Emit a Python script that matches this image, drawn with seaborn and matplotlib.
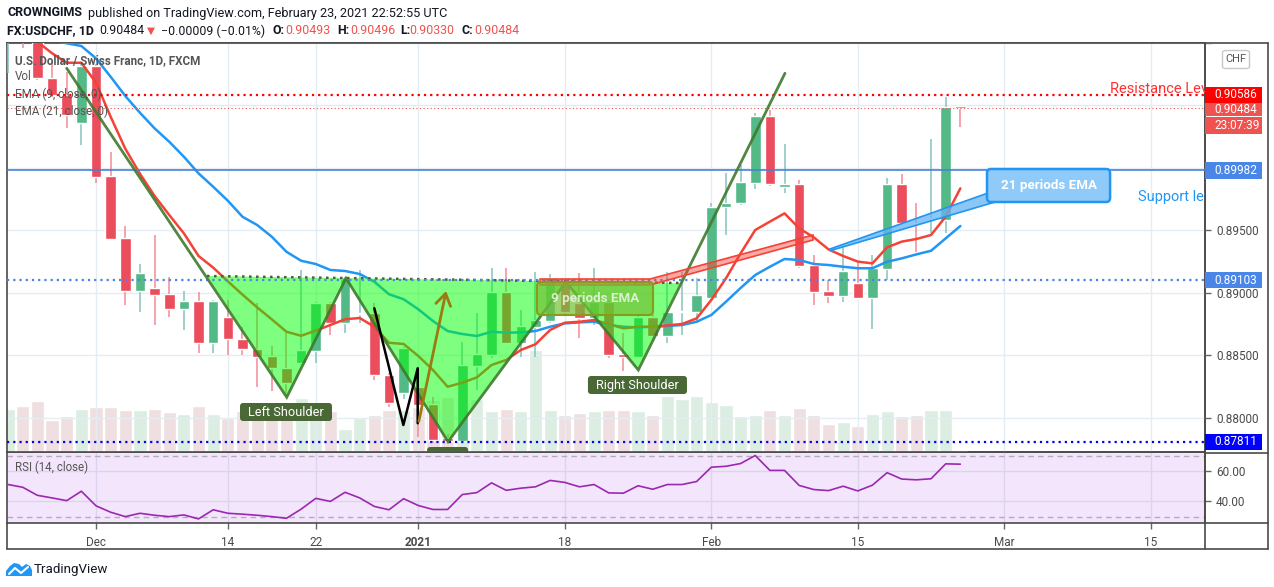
import numpy as np
import pandas as pd
import matplotlib
matplotlib.use('Agg')
import matplotlib.pyplot as plt
import seaborn as sns
from matplotlib.patches import Polygon, FancyBboxPatch, Rectangle
from matplotlib.lines import Line2D
from matplotlib.transforms import IdentityTransform

# ---------------- data ----------------
holidays = ['2020-12-25', '2021-01-01']
dates = pd.bdate_range('2020-11-23', '2021-02-24').drop(pd.to_datetime(holidays))

opens = [0.91180, 0.91300, 0.91120, 0.90718, 0.90584, 0.90362, 0.90816, 0.89936, 0.89437, 0.89018,
         0.89038, 0.88992, 0.88870, 0.88936, 0.88602, 0.88810, 0.88630, 0.88550, 0.88496, 0.88402,
         0.88442, 0.88538, 0.88918, 0.88758, 0.88830, 0.88838, 0.88344, 0.88198, 0.88250, 0.88112,
         0.87836, 0.87812, 0.88416, 0.88504, 0.89010, 0.88602, 0.88730, 0.88778, 0.89078, 0.88918,
         0.88798, 0.88930, 0.88512, 0.88490, 0.88810, 0.88656, 0.88846, 0.88850, 0.88958, 0.89686,
         0.89718, 0.89882, 0.90416, 0.89850, 0.89872, 0.89224, 0.89018, 0.88976, 0.89078, 0.88962,
         0.89194, 0.89872, 0.89560, 0.89590, 0.89584, 0.90493]
highs = [0.91340, 0.91380, 0.91200, 0.90850, 0.90770, 0.90840, 0.90830, 0.90130, 0.89536, 0.89232,
         0.89464, 0.89130, 0.89018, 0.89010, 0.88940, 0.88944, 0.88730, 0.88920, 0.88576, 0.88680,
         0.89184, 0.88930, 0.88930, 0.89130, 0.89184, 0.88920, 0.88360, 0.88570, 0.88400, 0.88170,
         0.87870, 0.88610, 0.88838, 0.89198, 0.89198, 0.88866, 0.89170, 0.89150, 0.89110, 0.89158,
         0.89198, 0.88940, 0.88680, 0.88820, 0.88830, 0.89170, 0.89170, 0.89118, 0.89720, 0.89958,
         0.90024, 0.90442, 0.90464, 0.90192, 0.89904, 0.89300, 0.89104, 0.89370, 0.89243, 0.89300,
         0.89917, 0.89952, 0.89717, 0.90232, 0.90566, 0.90496]
lows = [0.90758, 0.90960, 0.90700, 0.90570, 0.90318, 0.90184, 0.89882, 0.89420, 0.88904, 0.88850,
        0.88744, 0.88810, 0.88704, 0.88518, 0.88518, 0.88504, 0.88504, 0.88250, 0.88218, 0.88200,
        0.88420, 0.88442, 0.88664, 0.88678, 0.88760, 0.88304, 0.88090, 0.88150, 0.87850, 0.87800,
        0.87811, 0.87800, 0.88224, 0.88480, 0.88590, 0.88490, 0.88490, 0.88760, 0.88830, 0.88638,
        0.88740, 0.88478, 0.88378, 0.88480, 0.88640, 0.88600, 0.88664, 0.88760, 0.88940, 0.89464,
        0.89700, 0.89830, 0.89860, 0.89802, 0.89200, 0.88904, 0.88918, 0.88930, 0.88950, 0.88709,
        0.89104, 0.89550, 0.89331, 0.89477, 0.89482, 0.90330]
closes = [0.91300, 0.91120, 0.90718, 0.90584, 0.90424, 0.90816, 0.89930, 0.89432, 0.89018, 0.89158,
          0.88984, 0.88870, 0.88936, 0.88602, 0.88936, 0.88630, 0.88550, 0.88490, 0.88402, 0.88278,
          0.88544, 0.88918, 0.88758, 0.89110, 0.88840, 0.88344, 0.88122, 0.88558, 0.88104, 0.87824,
          0.87818, 0.88424, 0.88512, 0.89010, 0.88602, 0.88736, 0.88784, 0.89118, 0.88850, 0.88798,
          0.88930, 0.88504, 0.88490, 0.88810, 0.88656, 0.88846, 0.88852, 0.88984, 0.89690, 0.89722,
          0.89890, 0.90416, 0.89872, 0.89872, 0.89216, 0.89010, 0.88976, 0.89176, 0.88962, 0.89198,
          0.89872, 0.89562, 0.89550, 0.89600, 0.90486, 0.90484]
volumes = [43000, 46000, 51000, 32000, 36000, 43000, 45000, 45000, 42000, 42000,
           43000, 40000, 38000, 46000, 38000, 34000, 41000, 42000, 39000, 42000,
           54000, 42000, 41000, 23000, 34000, 37000, 42000, 42000, 45000, 52000,
           55000, 50000, 53000, 41000, 43000, 41000, 102000, 42000, 37000, 39000,
           41000, 42000, 42000, 41000, 37000, 56000, 53000, 56000, 50000, 47000,
           36000, 37000, 42000, 37000, 44000, 37000, 28000, 30000, 26000, 38000,
           41000, 36000, 37000, 42000, 42000, 1500]
ema9 = [0.91350, 0.91130, 0.91010, 0.90918, 0.90842, 0.90842, 0.90683, 0.90410, 0.90154, 0.89954,
        0.89776, 0.89624, 0.89477, 0.89296, 0.89203, 0.89093, 0.88987, 0.88885, 0.88789, 0.88690,
        0.88658, 0.88699, 0.88744, 0.88790, 0.88800, 0.88730, 0.88602, 0.88592, 0.88496, 0.88384,
        0.88250, 0.88282, 0.88325, 0.88424, 0.88464, 0.88544, 0.88590, 0.88704, 0.88762, 0.88770,
        0.88784, 0.88752, 0.88717, 0.88730, 0.88730, 0.88741, 0.88752, 0.88797, 0.88944, 0.89117,
        0.89317, 0.89504, 0.89571, 0.89637, 0.89517, 0.89445, 0.89349, 0.89296, 0.89251, 0.89237,
        0.89365, 0.89411, 0.89432, 0.89464, 0.89611, 0.89837]
ema21 = [0.91300, 0.91180, 0.91080, 0.91020, 0.90998, 0.90976, 0.90877, 0.90730, 0.90576, 0.90442,
         0.90317, 0.90210, 0.90090, 0.89957, 0.89850, 0.89738, 0.89610, 0.89544, 0.89450, 0.89330,
         0.89258, 0.89232, 0.89184, 0.89176, 0.89152, 0.89090, 0.88990, 0.88950, 0.88870, 0.88776,
         0.88696, 0.88672, 0.88656, 0.88690, 0.88682, 0.88685, 0.88696, 0.88730, 0.88757, 0.88765,
         0.88770, 0.88744, 0.88730, 0.88725, 0.88730, 0.88736, 0.88744, 0.88770, 0.88824, 0.88930,
         0.89040, 0.89144, 0.89210, 0.89272, 0.89264, 0.89232, 0.89224, 0.89210, 0.89198, 0.89198,
         0.89250, 0.89277, 0.89309, 0.89338, 0.89437, 0.89536]
rsi14 = [51.1, 49.3, 44.0, 42.3, 40.5, 46.7, 37.1, 32.9, 30.0, 32.2, 30.9, 30.0, 31.1, 28.5, 34.5,
         32.2, 31.6, 30.9, 30.0, 28.9, 34.9, 42.0, 40.0, 46.0, 42.3, 36.7, 34.5, 41.8, 37.3, 34.7,
         34.7, 44.5, 45.8, 52.2, 47.3, 48.7, 49.6, 53.8, 52.5, 49.6, 51.1, 45.6, 45.4, 50.3, 48.0,
         51.1, 51.1, 53.1, 62.5, 63.1, 64.9, 70.2, 60.4, 60.4, 50.5, 47.8, 47.1, 50.0, 46.9, 50.7,
         58.9, 54.7, 54.2, 54.9, 64.7, 64.5]

tick_dates = ['2020-12-01', '2020-12-14', '2020-12-22', '2021-01-04', '2021-01-18',
              '2021-02-01', '2021-02-15', '2021-03-01', '2021-03-15']
tick_labels = ['Dec', '14', '22', '2021', '18', 'Feb', '15', 'Mar', '15']
price_ticks = [0.880, 0.885, 0.890, 0.895, 0.900, 0.905, 0.910]
price_tick_labels = ['0.88000', '0.88500', '0.89000', '0.89500', '', '', '']

# horizontal levels
resistance = 0.90586
last_price = 0.90484
blue_level = 0.89982
support_mid = 0.89103
support_low = 0.87811

# drawings anchored at (bar index, price)
pattern_x = [4.0, 19.02, 23.07, 30.03, 38.08, 43.02, 53.03]
pattern_y = [0.90798, 0.88166, 0.89118, 0.87810, 0.89088, 0.88384, 0.90758]
fill_x = [13.58, 19.02, 23.07, 30.03, 38.08, 43.02, 45.86]
fill_y = [0.89136, 0.88166, 0.89118, 0.87810, 0.89088, 0.88384, 0.89080]
neck_x = [13.58, 45.86]
neck_y = [0.89136, 0.89080]
w_x = [25.0, 26.98, 27.96, 27.96]
w_y = [0.88878, 0.87944, 0.88398, 0.87958]
arrow_from = (28.0, 0.87952)
arrow_to = (29.94, 0.89038)
ema9_band_x = [36.31, 43.82, 54.94, 54.94, 43.82, 36.31]
ema9_band_y = [0.89112, 0.89112, 0.89464, 0.89424, 0.89064, 0.89064]
ema21_band_x = [56.1, 66.89, 67.37, 56.1]
ema21_band_y = [0.89352, 0.89800, 0.89728, 0.89338]

# ---------------- figure ----------------
W, H = 1274, 587
sns.set_theme(style='white')
plt.rcParams['font.family'] = ['Roboto', 'DejaVu Sans']

fig = plt.figure(figsize=(W / 100, H / 100), dpi=100)
fig.patch.set_facecolor('white')


def fx(x):
    return x / W


def fy(y):
    return 1 - y / H


n = len(dates)
idx = np.arange(n)
full_days = pd.bdate_range('2020-11-23', '2021-04-30').drop(pd.to_datetime(holidays))
tick_pos = [full_days.get_loc(pd.Timestamp(d)) for d in tick_dates]

XL = (-0.075, 81.7)
YL = (0.87728, 0.91)
FRAME = '#4a4a4a'
GRID = '#e3edf3'
TXT = '#4a4a4a'

ax = fig.add_axes([fx(7), fy(452), (1205 - 7) / W, (452 - 43) / H])
axv = ax.twinx()
ax.set_zorder(2)
axv.set_zorder(1)
ax.patch.set_visible(False)
axr = fig.add_axes([fx(7), fy(523), (1205 - 7) / W, (523 - 452) / H])

df = pd.DataFrame({'idx': idx, 'open': opens, 'high': highs, 'low': lows, 'close': closes,
                   'volume': volumes, 'ema9': ema9, 'ema21': ema21, 'rsi': rsi14})
up = df['close'] >= df['open']

# volume
vol_colors = np.where(up, '#dcede2', '#efdfe1')
axv.bar(df['idx'], df['volume'], width=0.9, color=vol_colors, zorder=1)
axv.set_ylim(0, 409000)
axv.set_yticks([])
for s in axv.spines.values():
    s.set_visible(False)

# grid
ax.set_xticks(tick_pos)
ax.set_yticks(price_ticks)
ax.grid(True, color=GRID, lw=1)
ax.set_axisbelow(True)

# candles
wick_colors = np.where(up, '#86c2bf', '#f08c96')
body_colors = np.where(up, '#53b987', '#eb4d5c')
ax.vlines(df['idx'], df['low'], df['high'], colors=wick_colors, lw=1.1, zorder=3)
body_bottom = np.minimum(df['open'], df['close'])
body_h = np.maximum(np.abs(df['close'] - df['open']), 0.00009)
ax.bar(df['idx'], body_h, bottom=body_bottom, width=0.72, color=body_colors, zorder=3.5)

# EMAs
sns.lineplot(data=df, x='idx', y='ema21', ax=ax, color='#2196f3', lw=1.8, zorder=4, legend=False)
sns.lineplot(data=df, x='idx', y='ema9', ax=ax, color='#f44336', lw=1.8, zorder=4, legend=False)

ax.set_xlim(*XL)
ax.set_ylim(*YL)
ax.set_xlabel('')
ax.set_ylabel('')

# horizontal levels
ax.axhline(resistance, color='#ff0000', lw=1.6, ls=(0, (1, 1.8)), zorder=6)
ax.axhline(last_price, color='#ef5350', lw=0.8, ls=(0, (1, 2.2)), zorder=6)
ax.axhline(blue_level, color='#4a7fd4', lw=1.2, zorder=6)
ax.axhline(support_mid, color='#4a86e8', lw=1.6, ls=(0, (1, 1.8)), zorder=6)
ax.axhline(support_low, color='#0000ff', lw=1.6, ls=(0, (1, 1.8)), zorder=6)

# head & shoulders pattern
ax.add_patch(Polygon(list(zip(fill_x, fill_y)), closed=True, fc=(0.0, 1.0, 0.0, 0.5), ec='none', zorder=5))
ax.plot(neck_x, neck_y, color='#4d5d3a', lw=1.8, ls=(0, (1, 1.8)), zorder=5.5)
ax.plot(pattern_x, pattern_y, color='#3f7a2e', lw=2, alpha=0.9, zorder=6, solid_joinstyle='miter')
ax.plot(w_x, w_y, color='black', lw=1.8, zorder=6)
ax.annotate('', xy=arrow_to, xytext=arrow_from,
            arrowprops=dict(arrowstyle='->,head_length=0.7,head_width=0.45', color='#9b7a12', lw=2),
            zorder=6)

# callout bands
ax.add_patch(Polygon(list(zip(ema9_band_x, ema9_band_y)), closed=True, fc=(0.96, 0.26, 0.21, 0.45),
                     ec='#f44336', lw=1.2, zorder=6.5))
ax.add_patch(Polygon(list(zip(ema21_band_x, ema21_band_y)), closed=True, fc=(0.39, 0.71, 0.96, 0.75),
                     ec='#2196f3', lw=1.2, zorder=6.5))


def rbox(x0, x1, p0, p1, fc, ec='none', lw=0, r=4, z=7):
    (dx0, dy0), (dx1, dy1) = ax.transData.transform([(x0, p0), (x1, p1)])
    patch = FancyBboxPatch((min(dx0, dx1), min(dy0, dy1)), abs(dx1 - dx0), abs(dy1 - dy0),
                           boxstyle=f'round,pad=0,rounding_size={r}', fc=fc, ec=ec, lw=lw,
                           transform=IdentityTransform(), zorder=z)
    ax.add_artist(patch)
    return patch


rbox(36.1, 44.02, 0.88824, 0.89088, (0.45, 0.76, 0.22, 0.72), ec='#8a9a1a', lw=1.5)
ax.text(40.06, 0.88956, '9 periods EMA', color=(0.93, 0.97, 0.9, 0.85), fontsize=9.6,
        fontweight='bold', ha='center', va='center', zorder=7.5)
rbox(66.82, 75.22, 0.89728, 0.89992, '#90caf9', ec='#2196f3', lw=1.8)
ax.text(71.02, 0.89862, '21 periods EMA', color='white', fontsize=9.6, fontweight='bold',
        ha='center', va='center', zorder=7.5)

rbox(15.83, 22.11, 0.87976, 0.88120, '#4a6836', r=3)
ax.text(18.97, 0.88046, 'Left Shoulder', color='white', fontsize=9.2, ha='center', va='center', zorder=7.5)
rbox(39.58, 46.34, 0.88192, 0.88336, '#4a6836', r=3)
ax.text(42.96, 0.88262, 'Right Shoulder', color='white', fontsize=9.2, ha='center', va='center', zorder=7.5)
rbox(28.6, 31.4, 0.87580, 0.87768, '#4a6836', r=3)

ax.text(75.22, 0.90634, 'Resistance Level', color='#ff3030', fontsize=10.5, ha='left', va='center',
        clip_on=True, zorder=7)
ax.text(77.13, 0.89772, 'Support level', color='#2196f3', fontsize=10.5, ha='left', va='center',
        clip_on=True, zorder=7)

# price axis
ax.yaxis.tick_right()
ax.set_yticklabels(price_tick_labels)
ax.tick_params(axis='y', which='both', direction='out', length=4, width=1, color='#666666',
               pad=4, labelsize=8.5, labelcolor=TXT, right=True, left=False)
ax.tick_params(axis='x', length=0, labelbottom=False)
for k, s in ax.spines.items():
    s.set_color(FRAME)
    s.set_linewidth(1.2)

# RSI panel
axr.set_facecolor('#f3e6fc')
sns.lineplot(data=df, x='idx', y='rsi', ax=axr, color='#9c27b0', lw=1.2, legend=False, zorder=3)
axr.axhline(70, color='#b4acbc', lw=1, ls=(0, (4, 3)), zorder=2)
axr.axhline(30, color='#b4acbc', lw=1, ls=(0, (4, 3)), zorder=2)
axr.set_xlim(*XL)
axr.set_ylim(25.8, 72.5)
axr.set_xticks(tick_pos)
axr.set_xticklabels(tick_labels)
axr.set_yticks([40, 60])
axr.set_yticklabels(['40.00', '60.00'])
axr.grid(True, color='#dcd3ee', lw=1)
axr.set_axisbelow(True)
axr.set_xlabel('')
axr.set_ylabel('')
axr.yaxis.tick_right()
axr.tick_params(axis='y', direction='out', length=4, width=1, color='#666666', pad=4,
                labelsize=8.5, labelcolor=TXT, right=True, left=False)
axr.tick_params(axis='x', direction='out', length=4, width=1, color='#666666', pad=5,
                labelsize=8.5, labelcolor=TXT, bottom=True)
axr.get_xticklabels()[3].set_fontweight('bold')
for k, s in axr.spines.items():
    s.set_color(FRAME)
    s.set_linewidth(1.2)
axr.text(0.007, 0.78, 'RSI (14, close)', transform=axr.transAxes, color='#555555', fontsize=8.3,
         ha='left', va='center')


# frame lines
def fline(x1, y1, x2, y2, c=FRAME, lw=1.2):
    fig.add_artist(Line2D([fx(x1), fx(x2)], [fy(y1), fy(y2)], transform=fig.transFigure, color=c, lw=lw))


fline(7, 43, 1268, 43)
fline(1268, 43, 1268, 549)
fline(7, 549, 1268, 549)
fline(7, 523, 7, 549)
fline(1205, 43, 1205, 549)
fline(1205, 452.5, 1268, 452.5)
fline(1205, 523, 1268, 523)


# price boxes
def pbox(ytop, ybot, color, text):
    fig.add_artist(Rectangle((fx(1205), fy(ybot)), (1262 - 1205) / W, (ybot - ytop) / H,
                             transform=fig.transFigure, fc=color, ec='none', zorder=5))
    fig.text(fx(1214), fy((ytop + ybot) / 2), text, color='white', fontsize=8.5,
             ha='left', va='center', zorder=6)


def price_y(p):
    return H - ax.transData.transform((0, p))[1]


yr = price_y(resistance)
pbox(yr - 8, yr + 8, '#ff0000', f'{resistance:.5f}')
pbox(yr + 8, yr + 21.5, '#ef5350', f'{last_price:.5f}')
pbox(yr + 22, yr + 39, '#ef5350', '23:07:39')
yb = price_y(blue_level)
pbox(yb - 8, yb + 8.5, '#4a86e8', f'{blue_level:.5f}')
ys = price_y(support_mid)
pbox(ys - 8, ys + 8, '#4a86e8', f'{support_mid:.5f}')
yl = price_y(support_low)
pbox(yl - 8, yl + 8, '#0000ff', f'{support_low:.5f}')

# CHF button
fig.add_artist(FancyBboxPatch((fx(1222.5), fy(68.5)), 27 / W, 18 / H,
                              boxstyle='round,pad=0,rounding_size=0.003', transform=fig.transFigure,
                              fc='white', ec='#c8c8c8', lw=1))
fig.text(fx(1236), fy(59.5), 'CHF', color='#555555', fontsize=8, ha='center', va='center')

# legend in chart
for yy, s in [(60.7, 'U.S. Dollar / Swiss Franc, 1D, FXCM'), (77, 'Vol'),
              (94, 'EMA (9, close, 0)'), (111.5, 'EMA (21, close, 0)')]:
    fig.text(fx(15.3), fy(yy), s, color='#555555', fontsize=8.4, ha='left', va='center',
             fontweight='bold' if s.startswith('U.S.') else 'normal', zorder=4)

# header
HDR = '#131722'
RED = '#ef5350'
fig.text(fx(7.4), fy(13), 'CROWNGIMS', color=HDR, fontsize=9.0, fontweight='bold', ha='left', va='center')
fig.text(fx(87.5), fy(13), 'published on TradingView.com, February 23, 2021 22:52:55 UTC', color=HDR,
         fontsize=9.1, ha='left', va='center')
pieces = [(7.4, 'FX:USDCHF, 1D', HDR, 'bold'), (99.7, '0.90484', HDR, 'normal'),
          (147, '\u25bc', RED, 'normal'), (161, '\u22120.00009 (\u22120.01%)', HDR, 'normal'),
          (272.6, 'O:', HDR, 'bold'), (285, '0.90493', RED, 'normal'),
          (337, 'H:', HDR, 'bold'), (350, '0.90496', RED, 'normal'),
          (400.5, 'L:', HDR, 'bold'), (409, '0.90330', RED, 'normal'),
          (461, 'C:', HDR, 'bold'), (474, '0.90484', RED, 'normal')]
for x0, s, c, w in pieces:
    fam = ['DejaVu Sans'] if s == '\u25bc' else ['Roboto', 'DejaVu Sans']
    fig.text(fx(x0), fy(31), s, color=c, fontsize=8.9 if s != '\u25bc' else 7.5, fontweight=w,
             ha='left', va='center', family=fam)

# TradingView logo
logo = [(6, 576), (6, 571), (10, 566), (14, 563), (19, 564), (22, 567), (26, 564), (30, 566),
        (32, 570), (32, 576)]
fig.add_artist(Polygon([(fx(a), fy(b)) for a, b in logo], closed=True, transform=fig.transFigure,
                       fc='#2196f3', ec='none'))
fig.add_artist(Line2D([fx(9), fx(15), fx(21), fx(28)], [fy(574), fy(568), fy(573), fy(567)],
                      transform=fig.transFigure, color='white', lw=1.5))
fig.text(fx(34), fy(569.5), 'TradingView', color=HDR, fontsize=9.6, ha='left', va='center')

fig.savefig('out.png', dpi=100, facecolor='white')
